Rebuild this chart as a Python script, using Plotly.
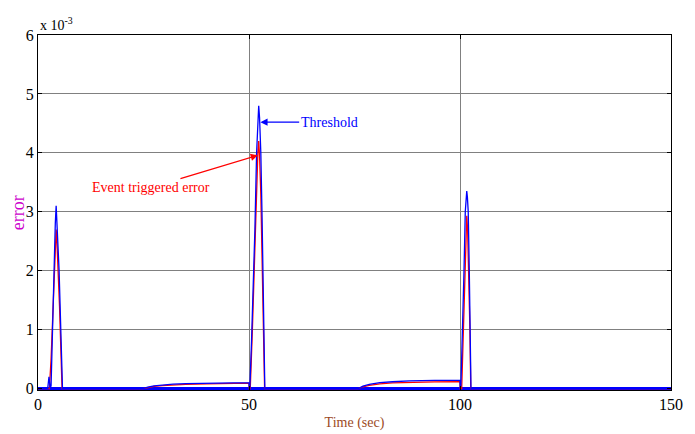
import plotly.graph_objects as go

# Time axis (s) and signals in units of 1e-3
thr_t = [0, 2.3, 2.6, 2.9, 3.1, 3.4, 3.8, 4.1, 4.3, 4.5, 4.8, 5.0, 5.4, 5.75, 5.8,
         24.9, 26, 27.5, 29.5, 32, 35, 40, 45, 50, 50.05,
         50.2, 50.6, 51.0, 51.4, 51.8, 52.1, 52.3, 52.5, 52.8, 53.1, 53.45, 53.75,
         75.9, 77, 78.5, 81, 84, 88, 94, 100, 100.05,
         100.2, 100.35, 100.6, 100.95, 101.25, 101.45, 101.6, 101.75, 101.95, 102.2, 102.45, 102.6,
         150]
thr_v = [0, 0, 0.2, 0, 0.05, 1.0, 2.0, 2.8, 3.1, 2.85, 2.3, 2.0, 1.0, 0.1, 0,
         0, 0.025, 0.045, 0.06, 0.075, 0.082, 0.088, 0.094, 0.1, 0,
         0, 0.8, 1.7, 2.7, 4.0, 4.6, 4.8, 4.6, 4.0, 2.9, 1.5, 0,
         0, 0.04, 0.07, 0.1, 0.115, 0.13, 0.137, 0.14, 0,
         0.05, 0.4, 1.0, 2.0, 3.0, 3.3, 3.35, 3.25, 3.0, 2.0, 1.0, 0,
         0]

err_t = [0, 2.7, 3.1, 3.5, 3.9, 4.15, 4.3, 4.45, 4.8, 5.1, 5.4, 5.7,
         24.9, 26, 27.5, 29.5, 32, 35, 40, 45, 50, 50.05,
         50.3, 50.8, 51.3, 51.8, 52.1, 52.3, 52.5, 52.8, 53.1, 53.4, 53.7,
         75.9, 77, 78.5, 81, 84, 88, 94, 100, 100.05,
         100.4, 100.8, 101.1, 101.4, 101.6, 101.8, 102.05, 102.35, 102.55,
         150]
err_v = [0, 0, 0.5, 1.3, 2.1, 2.55, 2.7, 2.55, 2.0, 1.4, 0.7, 0,
         0, 0.02, 0.035, 0.05, 0.06, 0.07, 0.078, 0.085, 0.09, 0,
         0, 1.0, 2.2, 3.5, 4.0, 4.2, 3.95, 3.3, 2.3, 1.2, 0,
         0, 0.03, 0.055, 0.08, 0.095, 0.105, 0.112, 0.115, 0,
         0, 1.0, 2.0, 2.7, 2.93, 2.7, 2.0, 1.0, 0,
         0]

base_t = [0, 150]
base_v = [0, 0]

x_ticks = [0, 50, 100, 150]
y_ticks = [0, 1, 2, 3, 4, 5, 6]

FONT = "Liberation Serif, Times New Roman, serif"
BLUE = "#0000FF"
RED = "#FF0000"

fig = go.Figure()
fig.add_trace(go.Scatter(x=base_t, y=base_v, mode="lines",
                         line=dict(color=BLUE, width=3), hoverinfo="skip"))
fig.add_trace(go.Scatter(x=err_t, y=err_v, mode="lines", name="Event triggered error",
                         line=dict(color=RED, width=1.3)))
fig.add_trace(go.Scatter(x=thr_t, y=thr_v, mode="lines", name="Threshold",
                         line=dict(color=BLUE, width=1.3)))

axis_common = dict(showline=True, linecolor="black", linewidth=1, mirror="ticks",
                   ticks="inside", ticklen=4, tickcolor="black",
                   showgrid=True, gridcolor="#808080", gridwidth=1, zeroline=False,
                   automargin=False,
                   tickfont=dict(family=FONT, size=16, color="black"))

fig.update_xaxes(range=[0, 150], tickvals=x_ticks, ticktext=[str(v) for v in x_ticks],
                 title=dict(text="Time (sec)", standoff=4,
                            font=dict(family=FONT, size=14, color="#9C4A1E")),
                 **axis_common)
fig.update_yaxes(range=[-0.025, 6], tickvals=y_ticks, ticktext=[str(v) for v in y_ticks],
                 **axis_common)

annotations = [
    # exponent label
    dict(xref="paper", yref="paper", x=0.0, y=1.0, xanchor="left", yanchor="bottom",
         text="x 10<sup>-3</sup>", showarrow=False,
         font=dict(family=FONT, size=14, color="black")),
    # y-axis title
    dict(xref="paper", yref="paper", x=-0.032, y=0.5, xanchor="center", yanchor="middle",
         text="error", textangle=-90, showarrow=False,
         font=dict(family=FONT, size=18, color="#CC00CC")),
    # Threshold label with arrow to the second peak
    dict(x=52.7, y=4.52, ax=69.0, ay=4.52, xref="x", yref="y", axref="x", ayref="y",
         text="Threshold", showarrow=True, arrowhead=2, arrowsize=1.2, arrowwidth=1.2,
         arrowcolor=BLUE, font=dict(family=FONT, size=14, color=BLUE)),
    # Event triggered error label with arrow to the second peak
    dict(x=52.1, y=3.96, ax=26.7, ay=3.41, xref="x", yref="y", axref="x", ayref="y",
         text="Event triggered error", showarrow=True, arrowhead=2, arrowsize=1.2,
         arrowwidth=1.2, arrowcolor=RED, font=dict(family=FONT, size=14, color=RED)),
]

fig.update_layout(width=695, height=434, margin=dict(l=38, r=24, t=35, b=44),
                  plot_bgcolor="white", paper_bgcolor="white", showlegend=False,
                  annotations=annotations)

fig.write_html("out.html")
